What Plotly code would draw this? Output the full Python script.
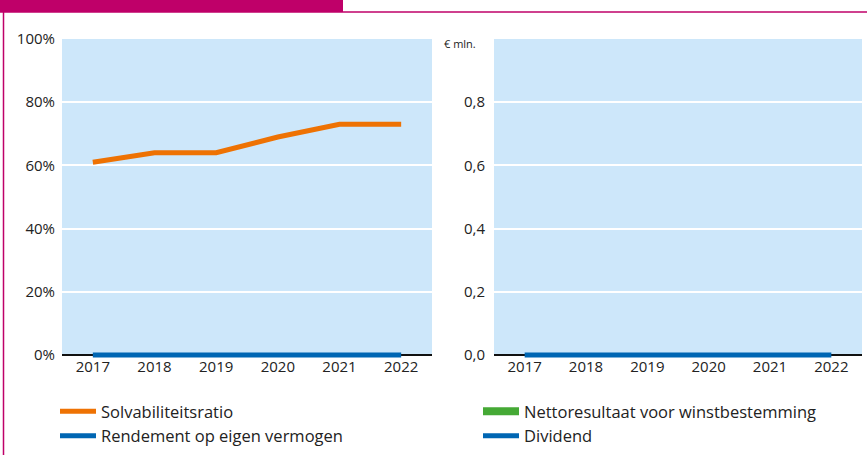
import plotly.graph_objects as go

W, H = 867, 455

years = ["2017", "2018", "2019", "2020", "2021", "2022"]
solvabiliteit = [61, 64, 64, 69, 73, 73]          # %
rendement = [0, 0, 0, 0, 0, 0]                    # %
nettoresultaat = [0, 0, 0, 0, 0, 0]               # € mln.
dividend = [0, 0, 0, 0, 0, 0]                     # € mln.

left_ticks = [0, 20, 40, 60, 80, 100]
left_ticktext = ["0%", "20%", "40%", "60%", "80%", "100%"]
right_ticks = [0, 0.2, 0.4, 0.6, 0.8]
left_max, right_max = 100, 1.0

ORANGE = "#EE7203"
BLUE = "#0066B3"
GREEN = "#45A935"
PANEL = "#CDE7FA"
MAGENTA = "#BF0069"
TEXT = "#222222"
FONT = "Open Sans"

# pixel geometry of the two panels
TOP, BASE, EXTRA = 39, 355, 4   # EXTRA px below the baseline so thick zero lines are not clipped


def px(x):
    return x / W


def py(y):
    return 1 - y / H


def lower(vmax):
    return -vmax * EXTRA / (BASE - TOP)


fig = go.Figure()

fig.add_trace(go.Scatter(
    x=years, y=solvabiliteit, mode="lines", name="Solvabiliteitsratio",
    line=dict(color=ORANGE, width=5), xaxis="x", yaxis="y", legend="legend"))
fig.add_trace(go.Scatter(
    x=years, y=rendement, mode="lines", name="Rendement op eigen vermogen",
    line=dict(color=BLUE, width=5), xaxis="x", yaxis="y", legend="legend"))
fig.add_trace(go.Bar(
    x=years, y=nettoresultaat, name="Nettoresultaat voor winstbestemming",
    marker=dict(color=GREEN), showlegend=False, xaxis="x2", yaxis="y2"))
# legend key for the bar series, drawn as a wide green block
fig.add_trace(go.Scatter(
    x=[None], y=[None], mode="lines", name="Nettoresultaat voor winstbestemming",
    line=dict(color=GREEN, width=8), xaxis="x2", yaxis="y2", legend="legend2"))
fig.add_trace(go.Scatter(
    x=years, y=dividend, mode="lines", name="Dividend",
    line=dict(color=BLUE, width=5), xaxis="x2", yaxis="y2", legend="legend2"))

ydom = [py(BASE + EXTRA), py(TOP)]
tickfont = dict(family=FONT, size=15, color=TEXT)
yaxis_common = dict(
    showgrid=True, gridcolor="white", gridwidth=2,
    zeroline=True, zerolinecolor="#111", zerolinewidth=1.5,
    showline=False, tickfont=tickfont, ticks="", automargin=False,
    fixedrange=True,
)
xaxis_common = dict(
    type="category", range=[-0.5, 5.5], showgrid=False, zeroline=False,
    showline=False, ticks="", tickfont=tickfont, ticklabelstandoff=-3,
    automargin=False, fixedrange=True,
)
legend_common = dict(
    xanchor="left", yanchor="top", bgcolor="rgba(0,0,0,0)",
    tracegroupgap=0, font=dict(family=FONT, size=16.5, color=TEXT),
    itemwidth=36,
)

fig.update_layout(
    template="none",
    width=W, height=H,
    margin=dict(l=0, r=0, t=0, b=0, pad=0, autoexpand=False),
    paper_bgcolor="white",
    plot_bgcolor="rgba(0,0,0,0)",
    separators=",.",
    font=dict(family=FONT, size=14, color=TEXT),
    xaxis=dict(domain=[px(62), px(432)], anchor="y", **xaxis_common),
    yaxis=dict(domain=ydom, anchor="x", range=[lower(left_max), left_max],
               tickvals=left_ticks, ticktext=left_ticktext,
               ticklabelstandoff=6, **yaxis_common),
    xaxis2=dict(domain=[px(494), px(862)], anchor="y2", **xaxis_common),
    yaxis2=dict(domain=ydom, anchor="x2", range=[lower(right_max), right_max],
                tickvals=right_ticks, tickformat=".1f",
                ticklabelstandoff=8, **yaxis_common),
    legend=dict(x=px(55), y=py(394), **legend_common),
    legend2=dict(x=px(478), y=py(394), **legend_common),
    showlegend=True,
    bargap=0.4,
)

# light-blue panels from the baseline up to the top of each value axis
for xr, yr, vmax in (("x", "y", left_max), ("x2", "y2", right_max)):
    fig.add_shape(type="rect", xref=f"{xr} domain", yref=yr,
                  x0=0, x1=1, y0=0, y1=vmax,
                  fillcolor=PANEL, line=dict(width=0), layer="below")

# Header band and frame lines
fig.add_shape(type="rect", xref="paper", yref="paper",
              x0=0, x1=px(343), y0=py(12), y1=1,
              fillcolor=MAGENTA, line=dict(width=0), layer="above")
fig.add_shape(type="line", xref="paper", yref="paper",
              x0=0, x1=1, y0=py(12), y1=py(12),
              line=dict(color=MAGENTA, width=1.5))
fig.add_shape(type="line", xref="paper", yref="paper",
              x0=px(3.5), x1=px(3.5), y0=0, y1=py(12),
              line=dict(color=MAGENTA, width=1.5))

fig.add_annotation(text="€ mln.", xref="paper", yref="paper",
                   x=px(442), y=py(43), xanchor="left", yanchor="middle",
                   showarrow=False, font=dict(family=FONT, size=11, color=TEXT))

fig.write_html("out.html")
